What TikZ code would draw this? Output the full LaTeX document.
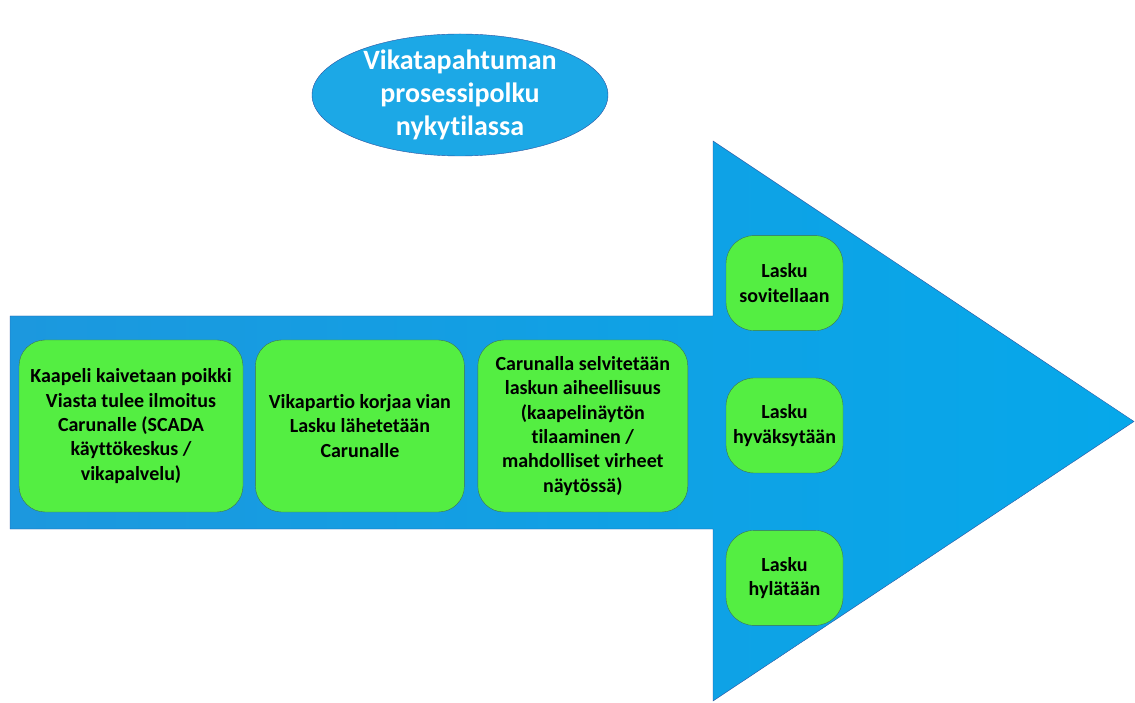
\documentclass[tikz,border=0pt]{standalone}
\usepackage{fontspec}
\setmainfont[Ligatures=NoCommon]{Carlito}
\usetikzlibrary{positioning,shapes.geometric}
\definecolor{shaftleft}{RGB}{28,152,222}
\definecolor{shaftmid}{RGB}{36,194,252}
\definecolor{shaftright}{RGB}{6,168,234}
\definecolor{arrowedge}{RGB}{44,82,160}
\definecolor{titleblue}{RGB}{28,168,230}
\definecolor{boxgreen}{RGB}{84,238,66}
\definecolor{boxedge}{RGB}{62,112,84}

\begin{document}
\begin{tikzpicture}[x=1pt, y=1pt,
        box/.style={draw=boxedge, fill=boxgreen, rounded corners=26pt, minimum height=172pt,
                align=center, inner sep=0pt, font=\bfseries\fontsize{20}{24.3}\selectfont},
        smallbox/.style={box, rounded corners=28pt, minimum width=117pt, minimum height=95pt},
        title/.style={ellipse, draw=arrowedge, fill=titleblue, text=white, align=center,
                minimum width=296pt, minimum height=122pt, inner xsep=0pt, inner ysep=-8pt,
                font=\bfseries\fontsize{28}{33}\selectfont}]
        \useasboundingbox (0,0) rectangle (1135,702);
        \draw[arrowedge, left color=shaftleft, middle color=shaftmid, right color=shaftright]
                (10,386) -- (713,386) -- (713,561) -- (1134,280.5) -- (713,1)
                -- (713,173) -- (10,173) -- cycle;
        \node[title] (otsikko) at (460,607) {Vikatapahtuman\\prosessipolku\\nykytilassa};
        \node[box, minimum width=224pt] (vika) at (131,276)
                {Kaapeli kaivetaan poikki\\Viasta tulee ilmoitus\\Carunalle (SCADA\\käyttökeskus /\\vikapalvelu)};
        \node[box, minimum width=209pt, right=12pt of vika] (korjaus)
                {Vikapartio korjaa vian\\Lasku lähetetään\\Carunalle};
        \node[box, minimum width=210pt, right=13pt of korjaus] (selvitys)
                {Carunalla selvitetään\\laskun aiheellisuus\\(kaapelinäytön\\tilaaminen /\\mahdolliset virheet\\näytössä)};
        \node[smallbox] (hyvaksy) at (784.5,276.5) {Lasku\\hyväksytään};
        \node[smallbox, above=47pt of hyvaksy] (sovittelu) {Lasku\\sovitellaan};
        \node[smallbox, below=57pt of hyvaksy] (hylkays) {Lasku\\hylätään};
\end{tikzpicture}
\end{document}
